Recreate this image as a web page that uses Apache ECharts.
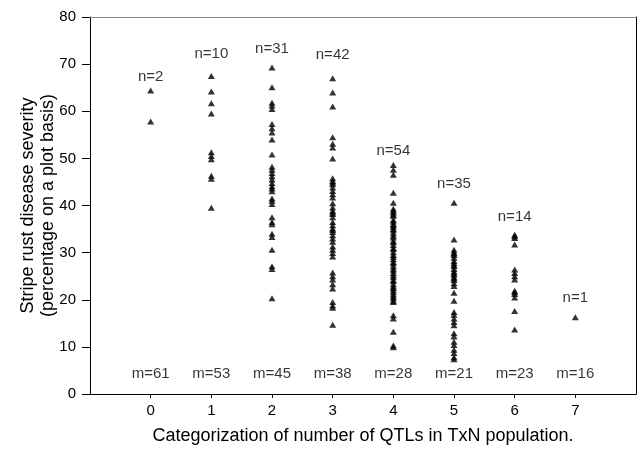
<!DOCTYPE html>
<html>
<head>
<meta charset="utf-8">
<script src="https://cdn.jsdelivr.net/npm/echarts@6/dist/echarts.min.js"></script>
<style>
  html, body { margin: 0; padding: 0; background: #fff; }
  #chart { width: 638px; height: 450px; }
</style>
</head>
<body>
<div id="chart"></div>
<script>
// severity per QTL category
var cat0 = [64.4, 57.8];
var cat1 = [67.5, 64.2, 61.7, 59.5, 51.3, 50.5, 49.8, 46.3, 45.7, 39.5];
var cat2 = [69.3, 65.1, 61.8, 61.2, 60.5, 57.3, 56.4, 55.5, 54.0, 50.8, 48.2, 47.6, 46.9, 46.2, 45.5, 44.8,
            44.1, 43.6, 43.0, 41.5, 41.0, 40.3, 37.5, 36.5, 36.0, 34.0, 33.3, 30.6, 27.1, 26.5, 20.3];
var cat3 = [67.0, 64.0, 61.0, 54.5, 53.1, 52.3, 50.0, 45.8, 45.2, 44.9, 44.5, 43.8, 43.1, 42.4, 41.7, 40.5,
            39.6, 38.9, 38.5, 38.2, 37.5, 36.5, 35.8, 35.1, 34.8, 34.4, 33.7, 33.0, 32.3, 31.3, 30.6, 29.9,
            29.2, 25.8, 25.0, 24.3, 23.3, 22.4, 19.5, 18.8, 18.3, 14.7];
var cat4 = [48.6, 47.6, 46.5, 42.7, 40.6, 39.3, 38.9, 38.5, 38.1, 37.8, 37.0, 36.6, 36.1, 35.8, 35.5, 35.0,
            34.7, 34.1, 33.6, 33.2, 32.5, 32.2, 31.6, 31.0, 30.7, 30.1, 29.5, 29.1, 28.6, 28.0, 27.7, 27.1,
            26.6, 26.2, 25.7, 25.2, 24.8, 24.2, 23.9, 23.3, 22.8, 22.5, 22.0, 21.6, 21.1, 20.7, 20.3, 19.8,
            19.5, 16.7, 16.0, 13.2, 10.3, 9.9];
var cat5 = [40.6, 32.8, 30.6, 30.1, 29.8, 29.5, 28.9, 28.2, 27.8, 27.4, 27.1, 26.5, 26.0, 25.6, 25.3, 24.8,
            24.5, 24.2, 23.5, 22.9, 21.5, 19.8, 17.4, 16.8, 16.0, 15.3, 14.6, 12.9, 12.2, 11.1, 10.4, 9.4,
            8.7, 7.8, 7.4];
var cat6 = [33.8, 33.5, 33.1, 31.7, 26.4, 25.7, 25.0, 24.3, 21.9, 21.6, 21.2, 20.5, 17.6, 13.7];
var cat7 = [16.3];

var categories = [0, 1, 2, 3, 4, 5, 6, 7];
var nLabels = ['n=2', 'n=10', 'n=31', 'n=42', 'n=54', 'n=35', 'n=14', 'n=1'];
var nLabelY = [67.4, 72.1, 73.3, 71.9, 51.6, 44.5, 37.5, 20.5];
var mLabels = ['m=61', 'm=53', 'm=45', 'm=38', 'm=28', 'm=21', 'm=23', 'm=16'];
var mLabelY = 4.2;

var groups = [cat0, cat1, cat2, cat3, cat4, cat5, cat6, cat7];
var FONT = 'Liberation Sans, Arial, sans-serif';

var points = [];
groups.forEach(function (vals, i) {
  vals.forEach(function (v) { points.push([categories[i], v]); });
});

var textPts = [];
categories.forEach(function (c, i) {
  textPts.push([c, nLabelY[i], nLabels[i]]);
  textPts.push([c, mLabelY, mLabels[i]]);
});

var myChart = echarts.init(document.getElementById('chart'));

myChart.setOption({
  backgroundColor: '#fff',
  animation: false,
  grid: { left: 90, right: 2, top: 17, bottom: 48 },
  xAxis: [{
    type: 'value', min: -1, max: 8, interval: 1,
    splitLine: { show: false },
    axisLine: { onZero: false, lineStyle: { color: '#000', width: 1 } },
    axisTick: { customValues: categories, length: 4, lineStyle: { color: '#000' } },
    axisLabel: { customValues: categories, color: '#000', fontSize: 15, fontFamily: FONT, margin: 9 },
    name: 'Categorization of number of QTLs in TxN population.',
    nameLocation: 'middle', nameGap: 33, nameMoveOverlap: false,
    nameTextStyle: { color: '#000', fontSize: 18, fontFamily: FONT }
  }, {
    type: 'value', min: -1, max: 8, position: 'top',
    splitLine: { show: false }, axisTick: { show: false }, axisLabel: { show: false },
    axisLine: { onZero: false, lineStyle: { color: '#888', width: 1 } }
  }],
  yAxis: [{
    type: 'value', min: 0, max: 80, interval: 10,
    splitLine: { show: false },
    axisLine: { show: true, onZero: false, lineStyle: { color: '#000', width: 1 } },
    axisTick: { show: true, length: 8, lineStyle: { color: '#000' } },
    axisLabel: { color: '#000', fontSize: 15, fontFamily: FONT, margin: 14 },
    name: 'Stripe rust disease severity\n(percentage on a plot basis)',
    nameLocation: 'middle', nameGap: 32, nameMoveOverlap: false,
    nameTextStyle: { color: '#000', fontSize: 18, fontFamily: FONT, lineHeight: 20 }
  }, {
    type: 'value', min: 0, max: 80, position: 'right',
    splitLine: { show: false }, axisTick: { show: false }, axisLabel: { show: false },
    axisLine: { show: true, onZero: false, lineStyle: { color: '#000', width: 1 } }
  }],
  series: [{
    type: 'scatter',
    symbol: 'triangle',
    symbolSize: [7, 6],
    itemStyle: { color: '#000' },
    data: points
  }, {
    type: 'scatter',
    symbolSize: 0,
    silent: true,
    label: {
      show: true, position: 'inside', color: '#000',
      fontSize: 15, fontFamily: FONT,
      formatter: function (p) { return p.value[2]; }
    },
    data: textPts
  }]
});
</script>
</body>
</html>
